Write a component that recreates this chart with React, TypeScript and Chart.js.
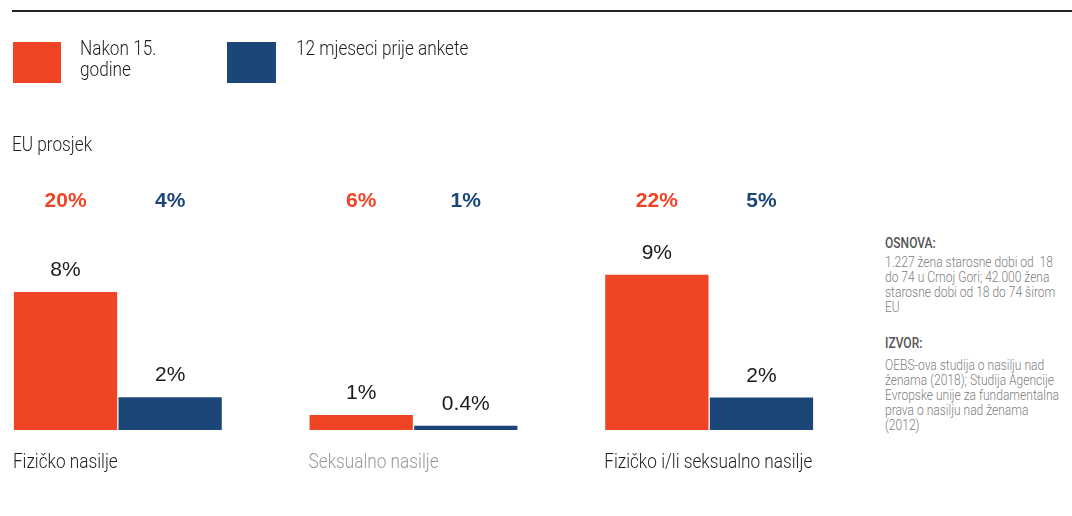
import React, { useEffect, useRef } from "react";
import { Chart, registerables } from "chart.js";

Chart.register(...registerables);

// ---- data ----
const categories = ["Fizičko nasilje", "Seksualno nasilje", "Fizičko i/li seksualno nasilje"];
const seriesNames = ["Nakon 15. godine", "12 mjeseci prije ankete"];
const afterAge15 = [8, 0.87, 9];
const last12Months = [1.9, 0.25, 1.88];
const afterAge15Labels = ["8%", "1%", "9%"];
const last12MonthsLabels = ["2%", "0.4%", "2%"];
const euAfterAge15 = ["20%", "6%", "22%"];
const euLast12Months = ["4%", "1%", "5%"];
const euTitle = "EU prosjek";
const basisTitle = "OSNOVA:";
const basisLines = ["1.227 žena starosne dobi od  18", "do 74 u Crnoj Gori; 42.000 žena", "starosne dobi od 18 do 74 širom", "EU"];
const sourceTitle = "IZVOR:";
const sourceLines = ["OEBS-ova studija o nasilju nad", "ženama (2018); Studija Agencije", "Evropske unije za fundamentalna", "prava o nasilju nad ženama", "(2012)"];

const ORANGE = "#EF4425";
const BLUE = "#1B4677";
const COND = 'Roboto, "DejaVu Sans Condensed", sans-serif';
const REG = '"Liberation Sans", Arial, sans-serif';
const SQUEEZE = 0.86;

const labelPlugin = {
  id: "labelPlugin",
  afterDatasetsDraw(chart: any) {
    const ctx = chart.ctx;
    const m0 = chart.getDatasetMeta(0);
    const m1 = chart.getDatasetMeta(1);
    const valueLabels = [afterAge15Labels, last12MonthsLabels];
    const euLabels = [euAfterAge15, euLast12Months];
    const colors = [ORANGE, BLUE];
    ctx.save();
    [m0, m1].forEach((meta: any, di: number) => {
      meta.data.forEach((bar: any, i: number) => {
        ctx.font = `400 21px ${REG}`;
        ctx.fillStyle = "#1a1a1a";
        ctx.textAlign = "center";
        ctx.textBaseline = "alphabetic";
        ctx.fillText(valueLabels[di][i], bar.x, bar.y - 16);
        ctx.font = `700 21px ${REG}`;
        ctx.fillStyle = colors[di];
        ctx.fillText(euLabels[di][i], bar.x, 207);
      });
    });
    m0.data.forEach((bar: any, i: number) => {
      ctx.save();
      ctx.font = `300 20px ${COND}`;
      ctx.fillStyle = i === 1 ? "#9a9a9a" : "#1e1e1e";
      ctx.textAlign = "left";
      ctx.textBaseline = "alphabetic";
      ctx.translate(bar.x - bar.width / 2 - 1, 468);
      ctx.scale(SQUEEZE, 1);
      ctx.fillText(categories[i], 0, 0);
      ctx.restore();
    });
    ctx.restore();
  },
};

export default function App() {
  const ref = useRef<HTMLCanvasElement | null>(null);
  useEffect(() => {
    if (!ref.current) return;
    const chart = new Chart(ref.current, {
      type: "bar",
      data: {
        labels: categories,
        datasets: [
          { label: seriesNames[0], data: afterAge15, backgroundColor: ORANGE, borderWidth: 0 },
          { label: seriesNames[1], data: last12Months, backgroundColor: BLUE, borderWidth: 0 },
        ],
      },
      options: {
        responsive: false,
        animation: false,
        devicePixelRatio: 1,
        layout: { padding: { left: 10, right: 3, top: 257.5, bottom: 86 } },
        datasets: { bar: { categoryPercentage: 0.7075, barPercentage: 0.9875 } },
        plugins: { legend: { display: false }, tooltip: { enabled: false } },
        scales: {
          x: { display: false },
          y: { display: false, min: 0, max: 10 },
        },
      },
      plugins: [labelPlugin],
    } as any);
    return () => chart.destroy();
  }, []);

  const text = (extra: React.CSSProperties): React.CSSProperties => ({
    position: "absolute",
    fontFamily: COND,
    fontWeight: 300,
    whiteSpace: "pre",
    margin: 0,
    transform: `scaleX(${SQUEEZE})`,
    transformOrigin: "0 0",
    ...extra,
  });

  return (
    <div style={{ position: "absolute", left: 0, top: 0, width: 1072, height: 516, overflow: "hidden", background: "#fff" }}>
      <canvas ref={ref} width={900} height={516} style={{ position: "absolute", left: -40, top: 0, width: 900, height: 516 }} />
      <div style={{ position: "absolute", left: 12, top: 10, width: 1060, height: 2, background: "#222" }} />
      {/* legend */}
      <div style={{ position: "absolute", left: 13, top: 42, width: 48, height: 41, background: ORANGE }} />
      <div style={text({ left: 80, top: 38, width: 110, whiteSpace: "normal", fontSize: 20, lineHeight: "21px", color: "#1e1e1e" })}>{seriesNames[0]}</div>
      <div style={{ position: "absolute", left: 227, top: 42, width: 49, height: 41, background: BLUE }} />
      <div style={text({ left: 296, top: 38, fontSize: 20, lineHeight: "21px", color: "#1e1e1e" })}>{seriesNames[1]}</div>
      <div style={text({ left: 12, top: 133, fontSize: 20, lineHeight: "22px", color: "#1e1e1e" })}>{euTitle}</div>
      {/* notes */}
      <div style={text({ left: 885, top: 236, fontSize: 14, lineHeight: "15px", color: "#555", fontWeight: 500 })}>{basisTitle}</div>
      {basisLines.map((l, i) => (
        <div key={"b" + i} style={text({ left: 885, top: 255 + i * 15, fontSize: 14, lineHeight: "15px", color: "#808080" })}>{l}</div>
      ))}
      <div style={text({ left: 885, top: 336, fontSize: 14, lineHeight: "15px", color: "#555", fontWeight: 500 })}>{sourceTitle}</div>
      {sourceLines.map((l, i) => (
        <div key={"s" + i} style={text({ left: 885, top: 358 + i * 15, fontSize: 14, lineHeight: "15px", color: "#808080" })}>{l}</div>
      ))}
    </div>
  );
}
